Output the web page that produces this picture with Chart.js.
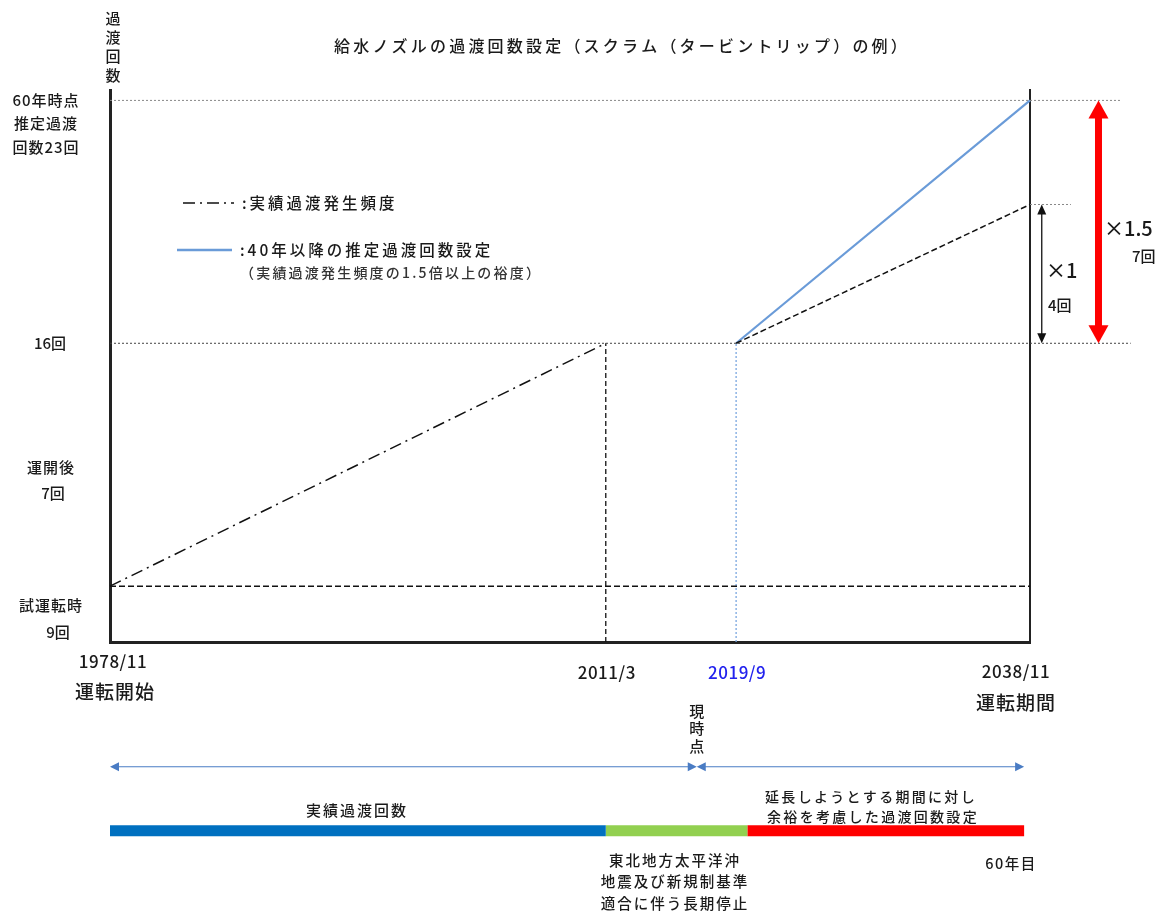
<!DOCTYPE html>
<html>
<head>
<meta charset="utf-8">
<script src="https://cdn.jsdelivr.net/npm/chart.js@4.4.1/dist/chart.umd.min.js"></script>
<style>
  html, body { margin: 0; padding: 0; background: #fff; }
  #wrap { position: relative; width: 1161px; height: 922px; }
</style>
</head>
<body>
<div id="wrap"><canvas id="myChart"></canvas></div>
<script>
// dates as decimal years
const startYear = 1978 + 10 / 12;   // 1978/11 運転開始
const quakeYear = 2011 + 2 / 12;    // 2011/3
const renewYear = 2019 + 8 / 12;    // 2019/9
const endYear = 2038 + 10 / 12;     // 2038/11 (60年目)
const nowYear = 2017.1;             // 現時点

const tickValues = [startYear, quakeYear, renewYear, endYear];
const tickLabels = ['1978/11', '2011/3', '2019/9', '2038/11'];

// counts (回)
const actualX = [startYear, quakeYear];
const actualY = [9, 16];            // 試運転時 9回 + 運開後 7回
const freqX = [renewYear, endYear];
const freqY = [16, 20];             // ×1 : +4回
const setY = [16, 23];              // ×1.5 : +7回

// bottom timeline (years)
const timelineEdges = [startYear, quakeYear, 2020.4, 2038.45];
const timelineColors = ['#0070c0', '#92d050', '#ff0000'];
const nowArrowX = [startYear, nowYear, 2038.45];

// annotation x positions beyond the axis (years)
const guide23End = 2044.8;
const guide20End = 2041.5;
const guide16End = 2045.4;
const arrowX1 = 2039.6;
const arrowX15 = 2043.3;

const yMin = 7.39, yMax = 23.3;
const tlArrowLevel = -0.226, tlBarLevel = -0.342;

const JP = '"Noto Sans CJK JP", "Noto Sans", sans-serif';

function seg(xs, ys, style) {
  return Object.assign({
    type: 'line',
    data: xs.map((x, i) => ({ x: x, y: ys[i] })),
    pointRadius: 0, fill: false, tension: 0, clip: false,
    borderCapStyle: 'butt', yAxisID: 'y'
  }, style);
}

const datasets = [
  // reference lines
  seg([startYear, guide23End], [setY[1], setY[1]], { borderColor: '#888', borderWidth: 1, borderDash: [2, 2] }),
  seg([endYear, guide20End], [freqY[1], freqY[1]], { borderColor: '#888', borderWidth: 1, borderDash: [2, 2] }),
  seg([startYear, guide16End], [actualY[1], actualY[1]], { borderColor: '#444', borderWidth: 1, borderDash: [2, 2] }),
  seg([startYear, endYear], [actualY[0], actualY[0]], { borderColor: '#111', borderWidth: 1.5, borderDash: [6, 3] }),
  seg([quakeYear, quakeYear], [yMin, actualY[1]], { borderColor: '#111', borderWidth: 1.3, borderDash: [5, 3] }),
  seg([renewYear, renewYear], [yMin, actualY[1]], { borderColor: '#7aa6e0', borderWidth: 1.3, borderDash: [2, 2] }),
  // actual frequency
  seg(actualX, actualY, { borderColor: '#111', borderWidth: 1.5, borderDash: [12, 5, 2, 5] }),
  seg(freqX, freqY, { borderColor: '#111', borderWidth: 1.5, borderDash: [6, 3] }),
  // 40年以降の推定過渡回数設定
  seg(freqX, setY, { borderColor: '#6a9bd8', borderWidth: 2.2 }),
  // ×1 and ×1.5 arrows
  seg([arrowX1, arrowX1], [freqY[0], freqY[1]], { borderColor: '#111', borderWidth: 1.3, showLine: false,
    arrow: { start: true, end: true, len: 10, half: 4.5 } }),
  seg([arrowX15, arrowX15], [setY[0], setY[1]], { borderColor: '#ff0000', borderWidth: 7, showLine: false,
    arrow: { start: true, end: true, len: 18, half: 10 } }),
  // timeline arrows
  seg([nowArrowX[0], nowArrowX[1]], [tlArrowLevel, tlArrowLevel], { yAxisID: 'yt', borderColor: '#4a7cc4', borderWidth: 1.2,
    showLine: false, arrow: { start: true, end: true, len: 9, half: 4.5 } }),
  seg([nowArrowX[1], nowArrowX[2]], [tlArrowLevel, tlArrowLevel], { yAxisID: 'yt', borderColor: '#4a7cc4', borderWidth: 1.2,
    showLine: false, arrow: { start: true, end: true, len: 9, half: 4.5 } })
];
// timeline bar segments
timelineColors.forEach((c, i) => {
  datasets.push(seg([timelineEdges[i], timelineEdges[i + 1]], [tlBarLevel, tlBarLevel],
    { yAxisID: 'yt', borderColor: c, borderWidth: 11 }));
});

const arrowPlugin = {
  id: 'arrows',
  afterDatasetsDraw(chart) {
    const ctx = chart.ctx;
    chart.data.datasets.forEach((ds, i) => {
      if (!ds.arrow) return;
      const pts = chart.getDatasetMeta(i).data;
      const a = pts[0], b = pts[pts.length - 1];
      const dx = b.x - a.x, dy = b.y - a.y, L = Math.hypot(dx, dy);
      const ux = dx / L, uy = dy / L;
      const h = ds.arrow.len, w = ds.arrow.half;
      const sx = a.x + (ds.arrow.start ? ux * h * 0.9 : 0), sy = a.y + (ds.arrow.start ? uy * h * 0.9 : 0);
      const ex = b.x - (ds.arrow.end ? ux * h * 0.9 : 0), ey = b.y - (ds.arrow.end ? uy * h * 0.9 : 0);
      ctx.save();
      ctx.strokeStyle = ds.borderColor;
      ctx.fillStyle = ds.borderColor;
      ctx.lineWidth = ds.borderWidth;
      ctx.beginPath(); ctx.moveTo(sx, sy); ctx.lineTo(ex, ey); ctx.stroke();
      const head = (tx, ty, dirx, diry) => {
        const bx = tx - dirx * h, by = ty - diry * h;
        ctx.beginPath();
        ctx.moveTo(tx, ty);
        ctx.lineTo(bx - diry * w, by + dirx * w);
        ctx.lineTo(bx + diry * w, by - dirx * w);
        ctx.closePath(); ctx.fill();
      };
      if (ds.arrow.end) head(b.x, b.y, ux, uy);
      if (ds.arrow.start) head(a.x, a.y, -ux, -uy);
      ctx.restore();
    });
  }
};

function txt(ctx, s, x, y, size, opts) {
  opts = opts || {};
  ctx.save();
  ctx.font = (opts.weight || '500') + ' ' + size + 'px ' + JP;
  ctx.fillStyle = opts.color || '#1a1a1a';
  ctx.textAlign = opts.align || 'left';
  ctx.textBaseline = 'middle';
  ctx.letterSpacing = (opts.spacing || 0) + 'px';
  ctx.fillText(s, x, y);
  ctx.restore();
}
function vtxt(ctx, s, x, y0, step, size) {
  [...s].forEach((ch, i) => txt(ctx, ch, x, y0 + i * step, size, { align: 'center' }));
}

const textPlugin = {
  id: 'texts',
  afterDraw(chart) {
    const ctx = chart.ctx;
    const xs = chart.scales.x, ys = chart.scales.y;
    // title
    txt(ctx, '給水ノズルの過渡回数設定（スクラム（タービントリップ）の例）', 622, 46, 16, { align: 'center', spacing: 3.2 });
    // y axis title
    vtxt(ctx, '過渡回数', 113, 18, 19, 15);
    // left labels
    txt(ctx, '60年時点', 46, 100, 15, { align: 'center', spacing: 1 });
    txt(ctx, '推定過渡', 46, 123, 15, { align: 'center', spacing: 1 });
    txt(ctx, '回数23回', 46, 147, 15, { align: 'center', spacing: 1 });
    txt(ctx, '16回', 50, ys.getPixelForValue(actualY[1]), 15, { align: 'center' });
    txt(ctx, '運開後', 51, 467, 15, { align: 'center', spacing: 1 });
    txt(ctx, '7回', 53, 493, 15, { align: 'center' });
    txt(ctx, '試運転時', 51, 605, 15, { align: 'center', spacing: 1 });
    txt(ctx, '9回', 58, 632, 15, { align: 'center' });
    // legend
    ctx.save();
    ctx.strokeStyle = '#111'; ctx.lineWidth = 1.5; ctx.setLineDash([12, 5, 2, 5]);
    ctx.beginPath(); ctx.moveTo(183, 203); ctx.lineTo(234, 203); ctx.stroke();
    ctx.setLineDash([]); ctx.strokeStyle = '#6a9bd8'; ctx.lineWidth = 2.5;
    ctx.beginPath(); ctx.moveTo(177, 250); ctx.lineTo(232, 250); ctx.stroke();
    ctx.restore();
    txt(ctx, ':実績過渡発生頻度', 242, 203, 15.5, { spacing: 3 });
    txt(ctx, ':40年以降の推定過渡回数設定', 240, 250, 15.5, { spacing: 3 });
    txt(ctx, '（実績過渡発生頻度の1.5倍以上の裕度）', 240, 273, 14, { spacing: 2.2, color: '#333' });
    // multipliers
    txt(ctx, '×1', 1046, 270, 20);
    txt(ctx, '4回', 1048, 305, 15);
    txt(ctx, '×1.5', 1104, 228, 20);
    txt(ctx, '7回', 1132, 256, 15);
    // x tick labels
    const dx = [3, 1, 1, -14], dy = [662, 673, 673, 672];
    tickValues.forEach((v, i) => {
      txt(ctx, tickLabels[i], xs.getPixelForValue(v) + dx[i], dy[i], 17,
        { align: 'center', color: i === 2 ? '#2222ee' : '#1a1a1a', spacing: 0.5 });
    });
    txt(ctx, '運転開始', 115, 692, 19, { align: 'center', spacing: 1 });
    txt(ctx, '運転期間', 1016, 703, 19, { align: 'center', spacing: 1 });
    // timeline texts
    vtxt(ctx, '現時点', xs.getPixelForValue(nowYear), 711, 17.5, 15);
    txt(ctx, '実績過渡回数', 357, 810, 15, { align: 'center', spacing: 2 });
    txt(ctx, '延長しようとする期間に対し', 871, 797, 14, { align: 'center', spacing: 2.3 });
    txt(ctx, '余裕を考慮した過渡回数設定', 873, 817, 14, { align: 'center', spacing: 2.3 });
    txt(ctx, '東北地方太平洋沖', 675, 860, 14.5, { align: 'center', spacing: 2 });
    txt(ctx, '地震及び新規制基準', 675, 881, 14.5, { align: 'center', spacing: 2 });
    txt(ctx, '適合に伴う長期停止', 675, 903, 14.5, { align: 'center', spacing: 2 });
    txt(ctx, '60年目', 1011, 863, 14.5, { align: 'center', spacing: 1.5 });
  }
};

const hiddenAxis = (pos) => ({
  position: pos, min: yMin, max: yMax,
  ticks: { display: false },
  grid: { display: false, drawTicks: false },
  border: { color: '#222', width: pos === 'left' ? 3 : 2 }
});

new Chart(document.getElementById('myChart'), {
  type: 'line',
  data: { datasets: datasets },
  options: {
    responsive: true,
    maintainAspectRatio: false,
    animation: false,
    events: [],
    layout: { padding: { left: 110, top: 90, right: 131, bottom: 280 } },
    plugins: { legend: { display: false }, tooltip: { enabled: false } },
    scales: {
      x: {
        type: 'linear', min: startYear, max: endYear,
        ticks: { display: false },
        grid: { display: false, drawTicks: false },
        border: { color: '#222', width: 3 }
      },
      y: hiddenAxis('left'),
      yr: hiddenAxis('right'),
      yt: { display: false, min: 0, max: 1 }
    }
  },
  plugins: [arrowPlugin, textPlugin]
});
</script>
</body>
</html>
